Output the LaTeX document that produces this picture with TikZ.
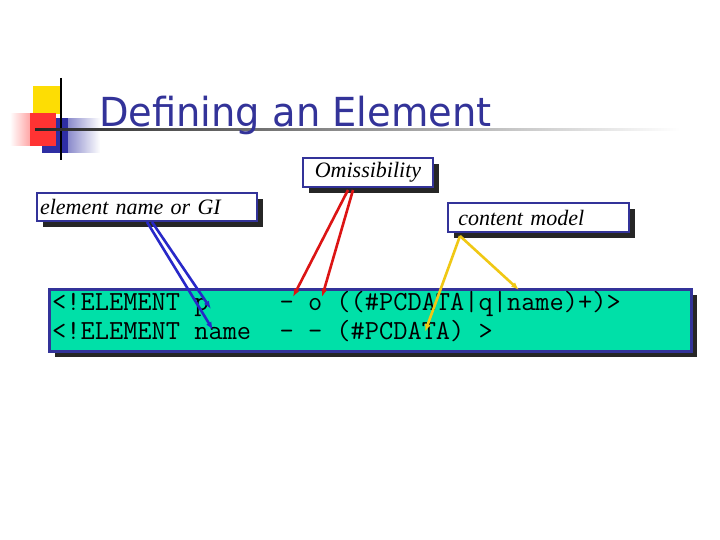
\documentclass[tikz,border=0pt]{standalone}
\usepackage{fontspec}
\setmainfont{Liberation Serif}
\newfontfamily\titlefont{DejaVu Sans}
\usetikzlibrary{arrows.meta,shadows,fadings}
\definecolor{tblue}{RGB}{51,51,153}
\definecolor{codegreen}{RGB}{0,224,168}
\definecolor{arred}{RGB}{220,20,20}
\definecolor{aryel}{RGB}{240,200,20}
\definecolor{arblue}{RGB}{40,40,200}
\tikzset{
 lbl/.style={draw=tblue,line width=2pt,fill=white,font=\itshape\fontsize{22}{24}\selectfont,inner sep=2pt,anchor=north west,
   drop shadow={shadow xshift=6pt,shadow yshift=-6pt,opacity=1,fill=black!85}},
 arr/.style={line width=2.6pt,-{Latex[length=8pt,width=6pt]}},
 code/.style={font=\ttfamily\fontsize{27.6}{30}\selectfont,anchor=base west,inner sep=0pt}
}
\begin{document}
\begin{tikzpicture}[x=1pt,y=-1pt]
\useasboundingbox (0,0) rectangle (720,540);
\fill[white] (0,0) rectangle (720,540);
% decoration
\fill[yellow!80!orange] (33,86) rectangle (61,114);
\fill[tblue!90!blue, path fading=east] (42,118) rectangle (100,153);
\fill[tblue!90!blue] (42,118) rectangle (68,153);
\fill[red!80, path fading=west] (10,113) rectangle (56,146);
\fill[red!80] (30,113) rectangle (56,146);
\draw[line width=2pt] (61,78) -- (61,160);
\shade[left color=black!85,right color=white] (35,129) rectangle (680,131);
\node[anchor=base west,inner sep=0pt,text=tblue,font=\titlefont\fontsize{40}{42}\selectfont,xscale=0.96] (title) at (99,127) {Defining an Element};
% code box
\node[draw=tblue,line width=2.5pt,fill=codegreen,minimum width=642pt,minimum height=62pt,anchor=north west,inner sep=0pt,
  drop shadow={shadow xshift=6pt,shadow yshift=-6pt,opacity=1,fill=black!85}] (box) at (48,288) {};
\node[code] (l1) at (52,310) {<!ELEMENT p\ \ \ \ \ - o ((\#PCDATA|q|name)+)>};
\node[code] (l2) at (52,339) {<!ELEMENT name\ \ - - (\#PCDATA) >};
% labels
\node[lbl,minimum width=130pt,minimum height=29pt] (om) at (302,157) {Omissibility};
\node[lbl,minimum width=220pt,minimum height=28pt,text width=214pt] (el) at (36,192) {element name or GI};
\node[lbl,minimum width=181pt,minimum height=29pt,text width=175pt] (cm) at (447,202) {\ content model};
% anchor coordinates
\coordinate (b1s) at (147,222); \coordinate (b2s) at (152,222);
\coordinate (b1e) at (211,309); \coordinate (b2e) at (213,330);
\coordinate (r1s) at (348,190); \coordinate (r2s) at (353,190);
\coordinate (r1e) at (293,297); \coordinate (r2e) at (322,297);
\coordinate (ys) at (460,236);
\coordinate (y1e) at (425,332); \coordinate (y2e) at (519,290);
\draw[arr,arblue] (b2s) -- (b1e);
\draw[arr,arblue] (b1s) -- (b2e);
\draw[arr,arred] (r1s) -- (r1e);
\draw[arr,arred] (r2s) -- (r2e);
\draw[arr,aryel] (ys) -- (y1e);
\draw[arr,aryel] (ys) -- (y2e);
\end{tikzpicture}
\end{document}
